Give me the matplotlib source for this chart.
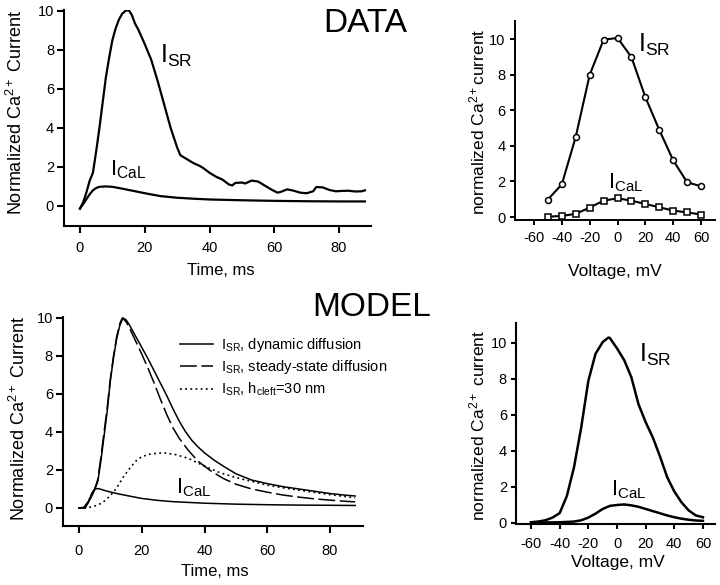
import matplotlib
matplotlib.use("Agg")
import matplotlib.pyplot as plt

plt.rcParams['font.family'] = ['Liberation Sans', 'DejaVu Sans']
plt.rcParams['mathtext.fontset'] = 'custom'
plt.rcParams['mathtext.rm'] = 'Liberation Sans'
plt.rcParams['mathtext.it'] = 'Liberation Sans'
plt.rcParams['mathtext.bf'] = 'Liberation Sans'
plt.rcParams['mathtext.default'] = 'regular'
plt.rcParams['axes.unicode_minus'] = False

# ---------------- DATA: time course ----------------
data_t_sr = [0, 1, 2, 3, 4, 5, 6, 7, 8, 9, 10, 11, 12, 13, 14, 15, 16, 17, 18, 20, 22, 24, 26, 28, 30, 31,
             33, 35, 37, 38, 40, 42, 44, 46, 47, 48, 50, 51, 53, 55, 57, 59, 61, 62, 64, 66, 68, 70, 72, 73,
             75, 77, 79, 81, 83, 85, 87, 88]
data_i_sr = [-0.15, 0.2, 0.7, 1.3, 1.7, 2.8, 4.0, 5.3, 6.6, 7.6, 8.5, 9.1, 9.55, 9.85, 10.0, 10.05, 9.8, 9.35,
             9.05, 8.3, 7.5, 6.4, 5.2, 4.0, 3.0, 2.6, 2.4, 2.2, 2.05, 1.95, 1.7, 1.5, 1.35, 1.1, 1.05, 1.18,
             1.2, 1.15, 1.3, 1.25, 1.05, 0.85, 0.68, 0.72, 0.85, 0.78, 0.68, 0.65, 0.75, 0.97, 0.95, 0.82,
             0.75, 0.77, 0.78, 0.74, 0.75, 0.8]
data_t_cal = [0, 1, 2, 3, 4, 5, 6, 8, 10, 12, 15, 18, 21, 25, 30, 35, 40, 50, 60, 70, 80, 88]
data_i_cal = [-0.12, 0.1, 0.35, 0.6, 0.8, 0.92, 0.98, 1.0, 0.98, 0.92, 0.82, 0.72, 0.62, 0.5, 0.42, 0.37,
              0.33, 0.29, 0.26, 0.24, 0.23, 0.23]

# ---------------- DATA: voltage dependence ----------------
data_v = [-50, -40, -30, -20, -10, 0, 10, 20, 30, 40, 50, 60]
data_v_sr = [0.98, 1.84, 4.51, 7.99, 9.96, 10.06, 8.98, 6.73, 4.89, 3.18, 1.95, 1.73]
data_v_cal = [0.02, 0.06, 0.18, 0.53, 0.92, 1.05, 0.92, 0.73, 0.55, 0.36, 0.26, 0.14]

# ---------------- MODEL: time course ----------------
model_t_dyn = [0, 1.5, 3, 4, 5, 6, 7, 8, 9, 10, 11, 12, 13, 14, 15, 16, 17, 18, 20, 22, 24, 26, 28, 30, 32,
               34, 36, 38, 40, 43, 46, 50, 55, 60, 65, 70, 75, 80, 85, 88]
model_i_dyn = [0, 0.02, 0.3, 0.6, 0.95, 1.4, 2.5, 3.8, 5.1, 6.7, 7.9, 8.9, 9.6, 10.0, 9.9, 9.65, 9.35, 9.05,
               8.45, 7.85, 7.2, 6.55, 5.9, 5.2, 4.55, 4.0, 3.55, 3.2, 2.9, 2.52, 2.2, 1.8, 1.47, 1.28, 1.12,
               1.0, 0.88, 0.76, 0.67, 0.63]
model_t_ss = [0, 1.5, 3, 4, 5, 6, 7, 8, 9, 10, 11, 12, 13, 13.8, 15, 16, 17, 18, 20, 22, 24, 26, 28, 30, 32,
              35, 38, 42, 46, 50, 55, 60, 65, 70, 75, 80, 85, 88]
model_i_ss = [0, 0.02, 0.35, 0.7, 1.0, 1.5, 2.7, 4.0, 5.3, 6.8, 8.0, 9.0, 9.7, 10.0, 9.8, 9.5, 9.15, 8.8,
              8.1, 7.35, 6.55, 5.7, 4.9, 4.2, 3.65, 3.0, 2.45, 1.95, 1.55, 1.25, 1.0, 0.83, 0.68, 0.57,
              0.48, 0.41, 0.35, 0.32]
model_t_cl = [0, 2, 4, 6, 8, 10, 12, 14, 16, 18, 20, 23, 27, 31, 35, 40, 45, 50, 55, 60, 65, 70, 75, 80,
              85, 88]
model_i_cl = [0, 0, 0.05, 0.15, 0.35, 0.65, 1.05, 1.6, 2.05, 2.45, 2.7, 2.85, 2.9, 2.8, 2.6, 2.2, 1.85,
              1.6, 1.4, 1.2, 1.06, 0.94, 0.82, 0.7, 0.6, 0.53]
model_t_cal = [0, 2, 3, 4, 5, 6, 7, 9, 12, 15, 20, 25, 30, 40, 50, 60, 70, 80, 88]
model_i_cal = [0, 0, 0.3, 0.75, 1.0, 1.02, 0.98, 0.88, 0.76, 0.66, 0.5, 0.4, 0.33, 0.25, 0.2, 0.17, 0.15,
               0.14, 0.13]

# ---------------- MODEL: voltage dependence ----------------
model_v_sr = [-60, -55, -50, -45, -40, -35, -30, -25, -20, -15, -10, -6, -5, 0, 5, 10, 15, 20, 25, 30, 35,
              40, 45, 50, 55, 60]
model_i_vsr = [0.04, 0.08, 0.15, 0.3, 0.55, 1.5, 3.1, 5.3, 7.9, 9.4, 10.05, 10.3, 10.28, 9.7, 9.05, 8.1,
               6.6, 5.6, 4.75, 3.7, 2.55, 1.75, 1.15, 0.7, 0.42, 0.32]
model_v_cal = [-60, -50, -40, -30, -25, -20, -15, -10, -5, 0, 5, 10, 15, 20, 25, 30, 35, 40, 45, 50, 55, 60]
model_i_vcal = [0.02, 0.03, 0.04, 0.08, 0.15, 0.3, 0.52, 0.78, 0.95, 1.0, 1.03, 0.98, 0.9, 0.78, 0.66,
                0.54, 0.42, 0.32, 0.24, 0.18, 0.14, 0.12]

time_ticks = [0, 20, 40, 60, 80]
volt_ticks = [-60, -40, -20, 0, 20, 40, 60]
cur_ticks = [0, 2, 4, 6, 8, 10]

W, H = 720, 585
fig = plt.figure(figsize=(7.2, 5.85), dpi=100)


def add_ax(l, t, r, b):
    return fig.add_axes([l / W, (H - b) / H, (r - l) / W, (b - t) / H])


def style(ax, lw, tlen, xpad, ypad, fs):
    for s in ('top', 'right'):
        ax.spines[s].set_visible(False)
    for s in ('left', 'bottom'):
        ax.spines[s].set_linewidth(lw)
    ax.tick_params(axis='both', direction='out', length=tlen, width=lw, labelsize=fs)
    ax.tick_params(axis='x', pad=xpad)
    ax.tick_params(axis='y', pad=ypad)


k = 'black'

# Panel 1: DATA time course
ax1 = add_ax(63.8, 10, 371.4, 226)
ax1.plot(data_t_sr, data_i_sr, color=k, lw=1.6)
ax1.plot(data_t_cal, data_i_cal, color=k, lw=1.6)
ax1.set_xlim(-5, 90)
ax1.set_ylim(-1.03, 10.05)
ax1.set_xticks(time_ticks)
ax1.set_yticks(cur_ticks)
style(ax1, 1.5, 5, 6, 2, 10.5)
ax1.set_xlabel('Time, ms', fontsize=12)
ax1.set_ylabel('Normalized Ca$^{2+}$ Current', fontsize=13)
ax1.xaxis.set_label_coords(0.511, -0.208)
ax1.xaxis.label.set_va('center')
ax1.yaxis.set_label_coords(-0.154, 0.525)
ax1.yaxis.label.set_va('center')
ax1.text(24.7, 7.33, 'I$_{SR}$', fontsize=18, va='baseline', ha='left')
ax1.text(9.3, 1.59, 'I$_{CaL}$', fontsize=16, va='baseline', ha='left')

# Panel 2: DATA voltage
ax2 = add_ax(514.5, 21.2, 715, 219.7)
ax2.plot(data_v, data_v_sr, color=k, lw=1.5, marker='o', ms=4.3, mfc='white', mec=k, mew=1.1)
ax2.plot(data_v, data_v_cal, color=k, lw=1.5, marker='s', ms=4.0, mfc='white', mec=k, mew=1.1)
ax2.set_xlim(-74, 70)
ax2.set_ylim(-0.15, 11)
ax2.set_xticks(volt_ticks)
ax2.set_yticks(cur_ticks)
style(ax2, 1.4, 3.5, 4.5, 3.0, 10.5)
ax2.set_xlabel('Voltage, mV', fontsize=12.5)
ax2.set_ylabel('normalized Ca$^{2+}$current', fontsize=12.5)
ax2.xaxis.set_label_coords(0.50, -0.263)
ax2.xaxis.label.set_va('center')
ax2.yaxis.set_label_coords(-0.183, 0.495)
ax2.yaxis.label.set_va('center')
ax2.text(14.7, 9.27, 'I$_{SR}$', fontsize=18, va='baseline', ha='left')
ax2.text(-6.8, 1.63, 'I$_{CaL}$', fontsize=15.5, va='baseline', ha='left')

# Panel 3: MODEL time course
ax3 = add_ax(63.3, 317, 363, 526)
ax3.plot(model_t_dyn, model_i_dyn, color=k, lw=1.1, label='I$_{SR}$, dynamic diffusion')
ax3.plot(model_t_ss, model_i_ss, color=k, lw=1.1, dashes=(11, 3),
         label='I$_{SR}$, steady-state diffusion')
ax3.plot(model_t_cl, model_i_cl, color=k, lw=1.2, dashes=(1.1, 2.0),
         label='I$_{SR}$, h$_{cleft}$=30 nm')
ax3.plot(model_t_cal, model_i_cal, color=k, lw=1.1)
ax3.set_xlim(-5, 90.5)
ax3.set_ylim(-0.95, 10.05)
ax3.set_xticks(time_ticks)
ax3.set_yticks(cur_ticks)
style(ax3, 1.5, 5, 8, 2.5, 10.5)
ax3.set_xlabel('Time, ms', fontsize=12)
ax3.set_ylabel('Normalized Ca$^{2+}$ Current', fontsize=13)
ax3.xaxis.set_label_coords(0.506, -0.22)
ax3.xaxis.label.set_va('center')
ax3.yaxis.set_label_coords(-0.149, 0.514)
ax3.yaxis.label.set_va('center')
ax3.text(30.9, 0.79, 'I$_{CaL}$', fontsize=15.5, va='baseline', ha='left')
ax3.legend(loc='upper left', bbox_to_anchor=(0.389, 0.909), frameon=False, borderpad=0,
           borderaxespad=0, handlelength=2.25, handletextpad=0.6, labelspacing=0.3, fontsize=10.5)

# Panel 4: MODEL voltage
ax4 = add_ax(516, 323, 715, 524)
ax4.plot(model_v_sr, model_i_vsr, color=k, lw=1.8)
ax4.plot(model_v_cal, model_i_vcal, color=k, lw=1.8)
ax4.set_xlim(-70.5, 68.4)
ax4.set_ylim(-0.056, 11.11)
ax4.set_xticks(volt_ticks)
ax4.set_yticks(cur_ticks)
style(ax4, 1.5, 3.5, 6, 3.0, 10.5)
ax4.set_xlabel('Voltage, mV', fontsize=12.5)
ax4.set_ylabel('normalized Ca$^{2+}$ current', fontsize=12.5)
ax4.xaxis.set_label_coords(0.51, -0.194)
ax4.xaxis.label.set_va('center')
ax4.yaxis.set_label_coords(-0.192, 0.49)
ax4.yaxis.label.set_va('center')
ax4.text(15.4, 8.94, 'I$_{SR}$', fontsize=18, va='baseline', ha='left')
ax4.text(-4.2, 1.56, 'I$_{CaL}$', fontsize=15.5, va='baseline', ha='left')

fig.text(323 / W, 1 - 31.7 / H, 'DATA', fontsize=24, ha='left', va='baseline')
fig.text(312 / W, 1 - 316 / H, 'MODEL', fontsize=24, ha='left', va='baseline')

fig.savefig('out.png', dpi=100)
